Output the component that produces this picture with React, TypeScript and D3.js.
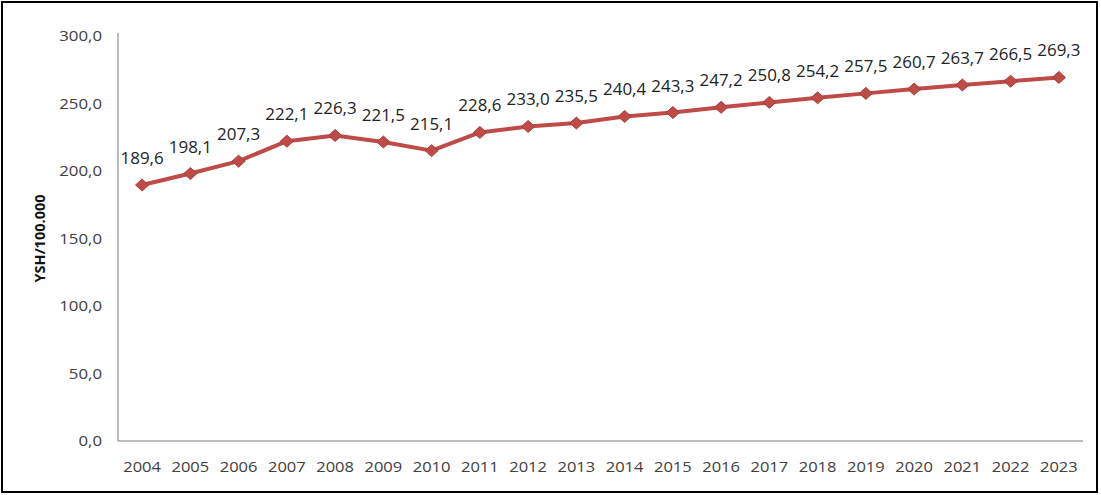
import React from "react";
import * as d3 from "d3";

const years = ["2004","2005","2006","2007","2008","2009","2010","2011","2012","2013","2014","2015","2016","2017","2018","2019","2020","2021","2022","2023"];
const values = [189.6,198.1,207.3,222.1,226.3,221.5,215.1,228.6,233.0,235.5,240.4,243.3,247.2,250.8,254.2,257.5,260.7,263.7,266.5,269.3];
const yTicks = [0,50,100,150,200,250,300];
const yTitle = "YSH/100.000";

const W = 1101, H = 495;
const left = 118, right = 1083, top = 36, bottom = 441;

const fmt = (v: number) => v.toFixed(1).replace(".", ",");

const wideDiamond: d3.SymbolType = {
  draw(ctx, size) {
    const r = Math.sqrt(size / 2);
    ctx.moveTo(0, -r);
    ctx.lineTo(r * 1.1, 0);
    ctx.lineTo(0, r);
    ctx.lineTo(-r * 1.1, 0);
    ctx.closePath();
  },
};

export default function App() {
  const x = d3.scaleBand<string>().domain(years).range([left, right]);
  const y = d3.scaleLinear().domain([0, 300]).range([bottom, top]);
  const cx = (yr: string) => (x(yr) as number) + x.bandwidth() / 2;
  const line = d3.line<number>().x((_, i) => cx(years[i])).y((d) => y(d));
  const diamond = d3.symbol().type(wideDiamond).size(72)();
  const font = "'Open Sans', sans-serif";
  return (
    <svg width={W} height={H} style={{ position: "absolute", left: 0, top: 0, display: "block" }}>
      <rect x={0} y={0} width={W} height={H} fill="#fff" />
      <rect x={2} y={2} width={1095} height={490} fill="none" stroke="#000" strokeWidth={2} />
      <line x1={left} x2={left} y1={top - 3} y2={bottom} stroke="#a6a6a6" strokeWidth={1.5} />
      <line x1={left} x2={right} y1={bottom} y2={bottom} stroke="#a6a6a6" strokeWidth={1.5} />
      {yTicks.map((t) => (
        <g key={t} transform={`translate(102,${y(t)}) scale(1.12,1)`}>
          <text dy="0.35em" textAnchor="end" fontFamily={font} fontSize={15} fill="#404040">
            {fmt(t)}
          </text>
        </g>
      ))}
      {years.map((yr) => (
        <g key={yr} transform={`translate(${cx(yr)},467) scale(1.1,1)`}>
          <text dy="0.35em" textAnchor="middle" fontFamily={font} fontSize={15} fill="#404040">
            {yr}
          </text>
        </g>
      ))}
      <text transform={`translate(40,${(top + bottom) / 2}) rotate(-90)`} textAnchor="middle" dy="0.35em" fontFamily={font} fontSize={14.5} fontWeight="bold" fill="#111">
        {yTitle}
      </text>
      <path d={line(values) || ""} fill="none" stroke="#be4b48" strokeWidth={4} strokeLinejoin="round" />
      {values.map((v, i) => (
        <path key={i} d={diamond || ""} transform={`translate(${cx(years[i])},${y(v)})`} fill="#be4b48" stroke="#a84040" strokeWidth={1} />
      ))}
      {values.map((v, i) => (
        <g key={"l" + i} transform={`translate(${cx(years[i])},${y(v) - 21}) scale(1.06,1)`}>
          <text fontFamily={font} fontSize={16} textAnchor="middle" fill="#222">
            {fmt(v)}
          </text>
        </g>
      ))}
    </svg>
  );
}
